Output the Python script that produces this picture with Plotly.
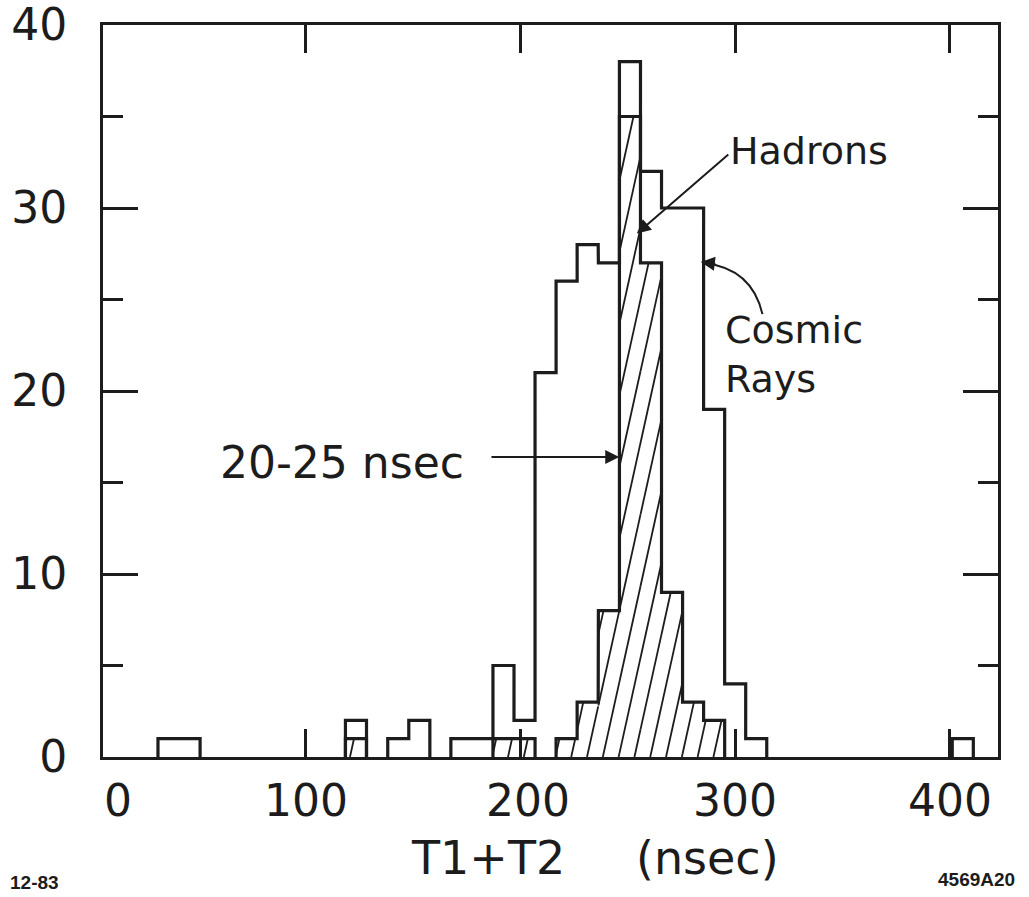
import plotly.graph_objects as go

# ---------------- data ----------------
bin_width = 9.81
cosmic_centers = [36.1, 45.9, 123.4, 143.1, 152.9, 172.5, 182.3, 192.1, 201.9, 211.7,
                  221.5, 231.3, 241.2, 251.0, 260.8, 270.6, 280.4, 290.2, 300.0, 309.8, 406.0]
cosmic_counts = [1, 1, 2, 1, 2, 1, 1, 5, 2, 21, 26, 28, 27, 38, 32, 30, 30, 19, 4, 1, 1]

hadron_centers = [123.4, 192.1, 201.9, 221.5, 231.3, 241.2, 251.0, 260.8, 270.6, 280.4, 290.2]
hadron_counts = [1, 1, 1, 1, 3, 8, 35, 27, 9, 3, 2]

x_tick_vals = [100, 200, 300, 400]
x_tick_text = ["100", "200", "300", "400"]
x_zero_label_pos = 12.6   # the hand-lettered "0" sits just right of the left frame
y_tick_vals = [0, 10, 20, 30, 40]
y_tick_text = ["0", "10", "20", "30", "40"]

# ---------------- style ----------------
INK = "#1c1c1c"
FONT = "DejaVu Sans"
hatch_spacing = 7.36   # x-units between hatch lines at the baseline
hatch_slope = 1.88     # x-units per count along a hatch line
hatch_phase = 231.0


def step_outline(centers, counts, w):
    xs, ys = [], []
    prev_right = None
    for c, h in zip(centers, counts):
        left, right = c - w / 2, c + w / 2
        if prev_right is None or abs(left - prev_right) > w * 0.3:
            if prev_right is not None:
                xs += [prev_right, None]
                ys += [0, None]
            xs.append(left)
            ys.append(0)
        xs += [left, right]
        ys += [h, h]
        prev_right = right
    xs.append(prev_right)
    ys.append(0)
    return xs, ys


def hatch_lines(centers, counts, w):
    xs, ys = [], []
    lo = min(centers) - w - max(counts) * hatch_slope
    hi = max(centers) + w
    j0 = int((lo - hatch_phase) // hatch_spacing) - 1
    j1 = int((hi - hatch_phase) // hatch_spacing) + 1
    for j in range(j0, j1 + 1):
        x0 = hatch_phase + j * hatch_spacing
        for c, h in zip(centers, counts):
            a, b = c - w / 2, c + w / 2
            y_lo = max(0.0, (a - x0) / hatch_slope)
            y_hi = min(float(h), (b - x0) / hatch_slope)
            if y_hi > y_lo:
                xs += [x0 + hatch_slope * y_lo, x0 + hatch_slope * y_hi, None]
                ys += [y_lo, y_hi, None]
    return xs, ys


fig = go.Figure()

hx, hy = hatch_lines(hadron_centers, hadron_counts, bin_width)
fig.add_trace(go.Scatter(x=hx, y=hy, mode="lines", line=dict(color=INK, width=1.8),
                         hoverinfo="skip", showlegend=False, cliponaxis=False))

ox, oy = step_outline(hadron_centers, hadron_counts, bin_width)
fig.add_trace(go.Scatter(x=ox, y=oy, mode="lines", line=dict(color=INK, width=3.2),
                         name="Hadrons", showlegend=False, cliponaxis=False))

cx, cy = step_outline(cosmic_centers, cosmic_counts, bin_width)
fig.add_trace(go.Scatter(x=cx, y=cy, mode="lines", line=dict(color=INK, width=3.2),
                         name="Cosmic Rays", showlegend=False, cliponaxis=False))

annotations = []
# x tick labels
for v, t in [(x_zero_label_pos, "0")] + list(zip(x_tick_vals, x_tick_text)):
    annotations.append(dict(x=v, y=0, xref="x", yref="y", text=t, showarrow=False,
                            xanchor="center", yanchor="middle", yshift=-43,
                            xshift=8 if t == "200" else 0,
                            font=dict(family=FONT, size=44, color=INK)))

# text labels
annotations += [
    dict(x=296.7, y=33.1, xref="x", yref="y", text="Hadrons", showarrow=False,
         xanchor="left", yanchor="middle", font=dict(family=FONT, size=38, color=INK)),
    dict(x=294.4, y=22.0, xref="x", yref="y", text="Cosmic<br>Rays", showarrow=False,
         align="left", xanchor="left", yanchor="middle",
         font=dict(family=FONT, size=38, color=INK)),
    dict(x=59.2, y=16.1, xref="x", yref="y", text="20-25 nsec", showarrow=False,
         xanchor="left", yanchor="middle", font=dict(family=FONT, size=44, color=INK)),
    # arrows
    dict(x=254.2, y=28.6, ax=297.5, ay=33.0, xref="x", yref="y", axref="x", ayref="y",
         text="", showarrow=True, arrowhead=2, arrowsize=1.4, arrowwidth=2, arrowcolor=INK),
    dict(x=246.0, y=16.4, ax=185.8, ay=16.4, xref="x", yref="y", axref="x", ayref="y",
         text="", showarrow=True, arrowhead=2, arrowsize=1.4, arrowwidth=2, arrowcolor=INK),
    dict(x=284.0, y=27.05, ax=16, ay=2, xref="x", yref="y",
         text="", showarrow=True, arrowhead=2, arrowsize=1.4, arrowwidth=2, arrowcolor=INK),
    # axis title
    dict(x=184.9, y=-0.138, xref="x", yref="paper", text="T1+T2", showarrow=False,
         xanchor="center", yanchor="middle", font=dict(family=FONT, size=46, color=INK)),
    dict(x=286.9, y=-0.138, xref="x", yref="paper", text="(nsec)", showarrow=False,
         xanchor="center", yanchor="middle", font=dict(family=FONT, size=46, color=INK)),
    # corner marks
    dict(x=-0.076, y=-0.171, xref="paper", yref="paper", text="<b>12-83</b>", showarrow=False,
         xanchor="center", yanchor="middle",
         font=dict(family="Liberation Sans Narrow, Liberation Sans", size=19, color=INK)),
    dict(x=0.9765, y=-0.168, xref="paper", yref="paper", text="<b>4569A20</b>", showarrow=False,
         xanchor="center", yanchor="middle",
         font=dict(family="Liberation Sans Narrow, Liberation Sans", size=19, color=INK)),
]

shapes = [
    dict(type="path", xref="x", yref="y",
         path="M 312.7,24.2 Q 307.9,26.7 285.5,27.0",
         line=dict(color=INK, width=2)),
]

fig.update_layout(
    width=1029, height=897,
    margin=dict(l=103, r=31, t=25, b=140, autoexpand=False),
    paper_bgcolor="white", plot_bgcolor="white",
    showlegend=False,
    annotations=annotations,
    shapes=shapes,
    xaxis=dict(range=[5.59, 422.4], showgrid=False, zeroline=False, automargin=False,
               tickvals=x_tick_vals, ticktext=x_tick_text, showticklabels=False,
               ticks="inside", ticklen=28, tickwidth=2.5, tickcolor=INK,
               showline=True, linewidth=3, linecolor=INK, mirror="ticks"),
    yaxis=dict(range=[0, 40.0001], showgrid=False, zeroline=False, automargin=False,
               tickvals=y_tick_vals, ticktext=y_tick_text,
               ticks="inside", ticklen=35, tickwidth=2.5, tickcolor=INK,
               tickfont=dict(family=FONT, size=44, color=INK),
               ticklabelstandoff=24, ticklabeloverflow="allow",
               minor=dict(dtick=5, ticks="inside", ticklen=20, tickwidth=2.5, tickcolor=INK,
                          showgrid=False),
               showline=True, linewidth=3, linecolor=INK, mirror="ticks"),
)

fig.write_html("out.html")
